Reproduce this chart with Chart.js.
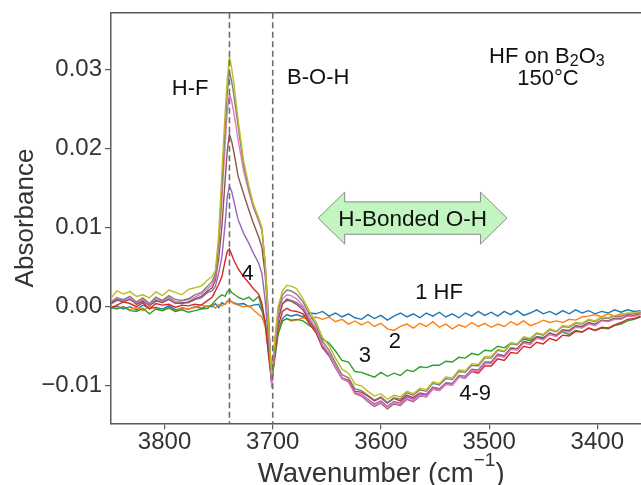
<!DOCTYPE html>
<html>
<head>
<meta charset="utf-8">
<title>HF on B2O3 - IR difference spectra</title>
<script src="https://cdn.jsdelivr.net/npm/chart.js@4.4.1/dist/chart.umd.min.js"></script>
<style>
  html, body { margin: 0; padding: 0; background: #fff; }
  #wrap { width: 641px; height: 485px; }
</style>
</head>
<body>
<div id="wrap"><canvas id="spectra" width="641" height="485"></canvas></div>
<script>
const FONT = "'Liberation Sans', Arial, Helvetica, sans-serif";
const INK = '#111111';
const LABEL_INK = '#333333';
const AXIS_GREY = '#5a5a5a';

// wavenumber grid (cm-1) shared by every spectrum, high -> low
const WAVENUMBERS = [
    3850, 3844, 3838, 3832, 3826, 3820, 3814, 3808, 3802, 3796, 3790, 3784, 3778, 3772, 3766, 3760,
    3756, 3753, 3750, 3747, 3744, 3742, 3740, 3738, 3736, 3732, 3727, 3722, 3718, 3713, 3710, 3707,
    3704, 3701, 3698, 3695, 3691, 3687, 3683,
    3678, 3672, 3666, 3660, 3654, 3648, 3642, 3636, 3630, 3624, 3618, 3612, 3606, 3600, 3594, 3588,
    3582, 3576, 3570, 3564, 3558, 3552, 3546, 3540, 3534, 3528, 3522, 3516, 3510, 3504, 3498, 3492,
    3486, 3480, 3474, 3468, 3462, 3456, 3450, 3444, 3438, 3432, 3426, 3420, 3414, 3408, 3402, 3396,
    3390, 3384, 3378, 3372, 3366, 3360,
];

// absorbance x 1000, one array per HF dose (same order as WAVENUMBERS)
const DOSE_1 = [
    -0.2, 0.1, -0.3, 0.0, -0.4, 0.2, -0.2, -0.1, -0.3, 0.1, -0.4, -0.2, -0.3, 0.0, -0.2, 0.1,
    0.0, 0.4, -0.1, 0.5, 0.3, 0.7, 0.9, 0.6, 0.5, 0.3, 0.4, 0.0, 0.2, 0.3, -0.5, -2.0, -5.0, -9.0, -5.8, -3.0, -1.5, -1.0, -1.2,
    -1.0, -1.3, -0.8, -0.9, -0.6, -1.2, -0.8, -1.3, -0.9, -1.4, -1.6, -1.0, -1.5, -1.1, -1.7, -1.2, -0.8, -1.3,
    -0.9, -1.4, -0.8, -1.2, -0.7, -1.3, -0.9, -1.4, -0.8, -1.2, -0.6, -1.1, -0.7, -1.2, -0.6, -1.0, -0.5, -1.1,
    -0.8, -0.4, -0.9, -0.6, -1.0, -0.5, -0.9, -0.4, -0.8, -0.5, -0.9, -0.6, -0.8, -0.4, -0.7, -0.4, -0.6, -0.5,
];
const DOSE_2 = [
    0.1, -0.2, 0.0, -0.4, -0.1, -0.5, 0.0, -0.3, -0.5, -0.2, -0.6, -0.1, -0.3, -0.1, 0.2, 0.0,
    0.2, -0.2, 0.3, 0.1, 0.4, 0.6, 0.9, 0.6, 0.4, 0.2, 0.0, 0.1, -0.4, -1.0, -1.3, -2.5, -5.5, -9.2, -6.0, -3.2, -1.8, -1.5, -1.8,
    -1.7, -1.4, -1.6, -1.3, -1.6, -1.3, -1.9, -1.6, -2.2, -1.8, -2.3, -1.9, -2.5, -2.1, -2.8, -3.0, -2.5, -2.2,
    -2.7, -2.1, -2.5, -1.9, -2.6, -2.2, -2.8, -2.3, -2.6, -2.0, -2.5, -2.1, -2.6, -2.2, -2.5, -1.9, -2.3, -1.8,
    -2.4, -2.1, -1.7, -2.0, -1.8, -2.0, -1.6, -1.7, -1.3, -1.2, -1.0, -1.3, -0.9, -1.2, -0.9, -1.0, -0.8, -0.7,
];
const DOSE_3 = [
    -0.1, -0.3, 0.0, -0.5, -0.6, -0.2, -0.9, -0.3, -0.5, -0.1, -0.6, -0.4, -0.7, -0.5, -0.3, -0.2,
    0.3, 0.8, 1.2, 1.5, 1.3, 1.9, 2.2, 1.8, 1.6, 1.2, 0.9, 1.2, 0.7, 1.3, -0.2, -2.0, -5.5, -9.4, -6.5, -3.5, -1.8, -1.5, -1.7,
    -1.6, -1.8, -2.4, -2.9, -4.1, -4.6, -5.6, -6.8, -7.0, -8.2, -8.3, -8.6, -8.9, -8.3, -8.8, -8.4, -8.7, -8.0,
    -8.2, -7.6, -7.7, -7.4, -7.4, -6.9, -7.0, -6.4, -6.5, -5.9, -6.1, -5.5, -5.6, -5.0, -5.2, -4.6, -4.7, -4.1,
    -4.3, -3.8, -3.9, -3.5, -3.7, -3.2, -3.5, -3.0, -3.2, -2.7, -3.0, -2.7, -2.8, -2.4, -2.2, -1.8, -1.6, -1.3,
];
const DOSE_4 = [
    -0.2, 0.2, 0.6, 0.4, 0.0, 0.5, -0.3, 0.4, 0.2, 0.3, -0.1, 0.2, 0.1, 0.3, 0.2, 0.8,
    1.2, 2.0, 2.8, 3.8, 5.8, 7.0, 7.3, 6.6, 5.9, 4.8, 3.8, 3.0, 2.3, 1.6, 0.4, -2.0, -6.0, -9.6, -6.0, -2.5, -0.6, -0.2, -0.5,
    -0.6, -0.9, -2.2, -3.3, -5.2, -6.2, -7.7, -9.0, -9.3, -10.7, -10.8, -11.3, -11.9, -11.5, -12.2, -11.6, -11.9, -11.2,
    -11.5, -10.9, -11.1, -10.2, -10.4, -9.7, -9.8, -8.9, -9.0, -8.2, -8.4, -7.5, -7.5, -6.6, -6.8, -5.8, -5.9, -5.0,
    -5.2, -4.5, -4.7, -4.0, -4.3, -3.6, -3.7, -3.1, -3.2, -2.7, -3.0, -2.6, -2.7, -2.3, -2.0, -1.6, -1.5, -1.2,
];
const DOSE_5 = [
    0.3, 0.8, 0.7, 0.9, 0.4, 0.8, 0.1, 0.7, 0.6, 0.9, 0.4, 0.5, 0.5, 0.9, 1.1, 1.8,
    2.0, 2.6, 4.2, 6.3, 10.5, 13.9, 15.2, 14.6, 13.4, 11.0, 9.3, 8.0, 6.8, 5.5, 4.2, 0.8, -4.2, -9.5, -5.2, -1.8, 0.3, 1.0, 0.8,
    0.5, -0.1, -1.8, -3.0, -5.1, -6.1, -7.7, -9.1, -9.5, -10.9, -11.1, -11.7, -12.3, -11.9, -12.6, -12.0, -12.2, -11.4,
    -11.7, -11.0, -11.2, -10.2, -10.4, -9.6, -9.7, -8.7, -8.8, -7.9, -8.0, -7.0, -7.0, -6.0, -6.2, -5.2, -5.3, -4.4,
    -4.6, -3.9, -4.1, -3.4, -3.7, -3.0, -3.1, -2.5, -2.6, -2.1, -2.3, -1.7, -1.8, -1.5, -1.5, -1.1, -1.1, -0.9,
];
const DOSE_6 = [
    0.4, 0.9, 0.6, 1.0, 0.3, 0.7, 0.2, 0.8, 0.5, 1.0, 0.5, 0.4, 0.6, 1.0, 1.3, 2.0,
    2.4, 3.4, 6.0, 10.1, 16.0, 19.8, 21.8, 20.9, 19.6, 16.5, 14.3, 12.2, 10.6, 8.8, 7.5, 4.0, -2.0, -9.0, -5.0, -1.5, 0.4, 0.8, 0.7,
    0.3, -0.4, -1.9, -2.9, -4.9, -6.0, -7.5, -9.0, -9.4, -11.0, -11.3, -12.0, -12.6, -12.2, -12.9, -12.3, -12.5, -11.7,
    -12.0, -11.3, -11.4, -10.4, -10.6, -9.8, -9.9, -8.9, -9.0, -8.1, -8.2, -7.2, -7.1, -6.1, -6.3, -5.3, -5.3, -4.4,
    -4.6, -3.8, -4.0, -3.3, -3.6, -2.9, -3.0, -2.4, -2.5, -2.0, -2.2, -1.7, -1.8, -1.5, -1.5, -1.1, -1.1, -0.9,
];
const DOSE_7 = [
    0.6, 1.2, 0.8, 1.1, 0.5, 0.9, 0.3, 1.0, 0.7, 1.2, 0.6, 0.7, 0.9, 1.2, 1.6, 2.3,
    2.8, 3.8, 7.2, 13.5, 20.5, 24.8, 27.0, 26.0, 24.6, 21.1, 17.2, 14.5, 12.6, 10.8, 9.6, 5.5, -0.8, -10.2, -5.0, -1.0, 1.0, 1.5, 1.4,
    1.0, 0.1, -1.5, -2.7, -4.8, -5.9, -7.6, -9.0, -9.5, -11.0, -11.2, -11.9, -12.5, -12.1, -12.8, -12.2, -12.4, -11.6,
    -11.9, -11.2, -11.4, -10.4, -10.6, -9.8, -9.9, -8.9, -9.0, -8.1, -8.2, -7.2, -7.2, -6.2, -6.4, -5.4, -5.5, -4.6,
    -4.8, -4.0, -4.2, -3.5, -3.8, -3.1, -3.2, -2.6, -2.7, -2.2, -2.4, -1.8, -1.9, -1.6, -1.6, -1.2, -1.2, -1.0,
];
const DOSE_8 = [
    0.5, 1.0, 0.9, 1.3, 0.6, 1.1, 0.4, 1.2, 0.8, 1.4, 0.9, 0.8, 1.0, 1.5, 1.8, 2.6,
    3.2, 4.2, 8.0, 15.2, 22.5, 27.0, 29.7, 28.5, 26.8, 22.8, 18.0, 14.8, 12.8, 11.0, 9.8, 5.3, -1.3, -9.3, -4.3, -0.5, 1.5, 2.1, 2.0,
    1.6, 0.6, -1.0, -2.3, -4.4, -5.5, -7.1, -8.6, -9.0, -10.4, -10.6, -11.2, -11.8, -11.4, -12.1, -11.5, -11.7, -10.9,
    -11.2, -10.5, -10.7, -9.7, -9.9, -9.1, -9.2, -8.2, -8.3, -7.4, -7.5, -6.5, -6.5, -5.5, -5.7, -4.7, -4.8, -3.9,
    -4.1, -3.4, -3.6, -2.9, -3.2, -2.5, -2.6, -2.1, -2.2, -1.7, -1.9, -1.4, -1.5, -1.2, -1.2, -0.9, -0.9, -0.7,
];
const DOSE_9 = [
    1.0, 2.0, 1.6, 1.9, 1.3, 1.5, 1.1, 1.9, 1.4, 2.1, 1.8, 1.5, 2.2, 2.4, 2.6, 3.4,
    3.8, 4.6, 9.0, 16.9, 24.5, 28.8, 31.6, 30.2, 28.3, 23.6, 18.5, 15.2, 13.0, 11.2, 10.0, 5.5, -2.0, -8.6, -4.0, 0.0, 2.0, 2.7, 2.6,
    2.3, 1.0, -0.6, -1.9, -3.9, -4.9, -6.5, -7.9, -8.4, -9.8, -10.0, -10.7, -11.3, -11.0, -11.7, -11.2, -11.4, -10.7,
    -11.0, -10.3, -10.5, -9.5, -9.7, -8.9, -9.0, -8.0, -8.1, -7.2, -7.3, -6.3, -6.3, -5.4, -5.6, -4.6, -4.7, -3.8,
    -4.0, -3.3, -3.5, -2.8, -3.1, -2.4, -2.5, -2.0, -2.1, -1.6, -1.8, -1.3, -1.4, -1.1, -1.1, -0.8, -0.8, -0.6,
];

const SERIES = [DOSE_1, DOSE_2, DOSE_3, DOSE_4, DOSE_5, DOSE_6, DOSE_7, DOSE_8, DOSE_9];
const SERIES_NAMES = ['1 HF', '2', '3', '4', '5', '6', '7', '8', '9'];
const SERIES_COLORS = ['#1f77b4', '#ff7f0e', '#2ca02c', '#d62728', '#9467bd', '#8c564b', '#e377c2', '#7f7f7f', '#bcbd22'];

const X_TICKS = [3800, 3700, 3600, 3500, 3400];
const Y_TICKS = [-10, 0, 10, 20, 30];
const Y_TICK_LABELS = ['\u22120.01', '0.00', '0.01', '0.02', '0.03'];

const X_MIN = 3359.6, X_MAX = 3849.5;   // visible part of the axis
const X_AXIS_END = 3350;                // original axis end (cropped off at the right)
const Y_MIN = -14.74, Y_MAX = 37.16;

// dashed guides at the H-F and B-O-H bands
const BAND_MARKERS = [3740, 3700];

// text notes, centred on (wavenumber, absorbance x 1000)
const NOTES = [
    { text: 'H-F', x: 3776.4, y: 27.8 },
    { text: 'B-O-H', x: 3657.9, y: 29.2 },
    { text: '150°C', x: 3445.6, y: 29.0 },
    { text: '4', x: 3723.3, y: 4.4 },
    { text: '1 HF', x: 3546.3, y: 2.0 },
    { text: '2', x: 3587.0, y: -4.2 },
    { text: '3', x: 3614.8, y: -6.0 },
    { text: '4-9', x: 3513.0, y: -10.8 },
];
const SAMPLE_NOTE = { parts: ['HF on B', '2', 'O', '3'], x: 3446.6, y: 31.8 };
const ARROW = { from: 3658, to: 3483.5, y: 11.2, text: 'H-Bonded O-H' };

function drawParts(ctx, parts, cx, baseY) {
    // parts: [text, fontSize, rise]
    let total = 0;
    parts.forEach(p => { ctx.font = `${p[1]}px ${FONT}`; total += ctx.measureText(p[0]).width; });
    let cursor = cx - total / 2;
    parts.forEach(p => {
        ctx.font = `${p[1]}px ${FONT}`;
        ctx.fillText(p[0], cursor, baseY - p[2]);
        cursor += ctx.measureText(p[0]).width;
    });
}

function drawArrow(ctx, x, y) {
    const x1 = x.getPixelForValue(ARROW.from);
    const x2 = x.getPixelForValue(ARROW.to);
    const yc = y.getPixelForValue(ARROW.y);
    const head = 26.5, body = 16.2, wing = 26;

    ctx.beginPath();
    ctx.moveTo(x1, yc);
    ctx.lineTo(x1 + head, yc - wing);
    ctx.lineTo(x1 + head, yc - body);
    ctx.lineTo(x2 - head, yc - body);
    ctx.lineTo(x2 - head, yc - wing);
    ctx.lineTo(x2, yc);
    ctx.lineTo(x2 - head, yc + wing);
    ctx.lineTo(x2 - head, yc + body);
    ctx.lineTo(x1 + head, yc + body);
    ctx.lineTo(x1 + head, yc + wing);
    ctx.closePath();
    ctx.fillStyle = '#c2f5c0';
    ctx.fill();
    ctx.strokeStyle = '#8a8a8a';
    ctx.lineWidth = 1;
    ctx.stroke();

    ctx.fillStyle = INK;
    ctx.textAlign = 'center';
    ctx.textBaseline = 'alphabetic';
    ctx.font = `22.5px ${FONT}`;
    ctx.fillText(ARROW.text, (x1 + x2) / 2, yc + 0.36 * 22.5);
}

const spectraDecor = {
    id: 'spectraDecor',
    afterDatasetsDraw(chart) {
        const { ctx, chartArea: area, scales: { x, y } } = chart;
        ctx.save();

        // top spine
        ctx.strokeStyle = AXIS_GREY;
        ctx.lineWidth = 1.5;
        ctx.beginPath();
        ctx.moveTo(area.left, area.top);
        ctx.lineTo(area.right, area.top);
        ctx.stroke();

        ctx.setLineDash([6, 3.5]);
        ctx.strokeStyle = '#6e6e6e';
        ctx.lineWidth = 1.6;
        BAND_MARKERS.forEach(wn => {
            const px = x.getPixelForValue(wn);
            ctx.beginPath();
            ctx.moveTo(px, area.top);
            ctx.lineTo(px, area.bottom);
            ctx.stroke();
        });
        ctx.setLineDash([]);

        drawArrow(ctx, x, y);

        ctx.fillStyle = INK;
        ctx.textAlign = 'center';
        ctx.textBaseline = 'alphabetic';
        ctx.font = `22px ${FONT}`;
        NOTES.forEach(n => {
            ctx.fillText(n.text, x.getPixelForValue(n.x), y.getPixelForValue(n.y) + 0.36 * 22);
        });

        ctx.textAlign = 'left';
        const sp = SAMPLE_NOTE.parts;
        drawParts(ctx, [[sp[0], 22, 0], [sp[1], 16, -3.4], [sp[2], 22, 0], [sp[3], 16, -3.4]],
            x.getPixelForValue(SAMPLE_NOTE.x), y.getPixelForValue(SAMPLE_NOTE.y) + 0.36 * 22);

        ctx.restore();
    },
    afterDraw(chart) {
        const { ctx, chartArea: area, scales: { x } } = chart;
        ctx.save();
        ctx.fillStyle = LABEL_INK;
        ctx.textBaseline = 'alphabetic';

        // x title, centred on the full (uncropped) axis
        ctx.textAlign = 'left';
        const cx = (area.left + x.getPixelForValue(X_AXIS_END)) / 2;
        drawParts(ctx, [['Wavenumber (cm', 27.5, 0], ['\u22121', 19, 15.5], [')', 27.5, 0]], cx, 481.5);

        // y title
        ctx.translate(33, (area.top + area.bottom) / 2);
        ctx.rotate(-Math.PI / 2);
        ctx.textAlign = 'center';
        ctx.font = `26px ${FONT}`;
        ctx.fillText('Absorbance', 0, 0);
        ctx.restore();
    },
};

new Chart(document.getElementById('spectra'), {
    type: 'line',
    data: {
        datasets: SERIES.map((vals, i) => ({
            label: SERIES_NAMES[i],
            data: WAVENUMBERS.map((wn, j) => ({ x: wn, y: vals[j] })),
            borderColor: SERIES_COLORS[i],
            borderWidth: 1.4,
            pointRadius: 0,
            tension: 0,
            fill: false,
            order: SERIES.length - i,
        })),
    },
    options: {
        responsive: false,
        animation: false,
        layout: { padding: { top: 12.7, right: 0, bottom: 0, left: 0 } },
        plugins: {
            legend: { display: false },
            tooltip: { enabled: false },
        },
        scales: {
            x: {
                type: 'linear',
                reverse: true,
                min: X_MIN,
                max: X_MAX,
                afterBuildTicks: s => { s.ticks = X_TICKS.map(v => ({ value: v })); },
                afterFit: s => { s.height = 61.7; s.paddingLeft = 0; s.paddingRight = 0; },
                grid: { drawOnChartArea: false, tickLength: 6, color: AXIS_GREY, lineWidth: 1.2 },
                border: { color: AXIS_GREY, width: 1.5 },
                ticks: {
                    color: LABEL_INK,
                    font: { family: FONT, size: 24, lineHeight: 1 },
                    padding: 1.5,
                    maxRotation: 0,
                    autoSkip: false,
                    callback: v => String(v),
                },
            },
            y: {
                type: 'linear',
                min: Y_MIN,
                max: Y_MAX,
                afterBuildTicks: s => { s.ticks = Y_TICKS.map(v => ({ value: v })); },
                afterFit: s => { s.width = 111; s.paddingTop = 0; s.paddingBottom = 0; },
                grid: { drawOnChartArea: false, tickLength: 6, color: AXIS_GREY, lineWidth: 1.2 },
                border: { color: AXIS_GREY, width: 1.5 },
                ticks: {
                    color: LABEL_INK,
                    font: { family: FONT, size: 24 },
                    padding: 3,
                    autoSkip: false,
                    callback: v => Y_TICK_LABELS[Y_TICKS.indexOf(v)],
                },
            },
        },
    },
    plugins: [spectraDecor],
});
</script>
</body>
</html>
